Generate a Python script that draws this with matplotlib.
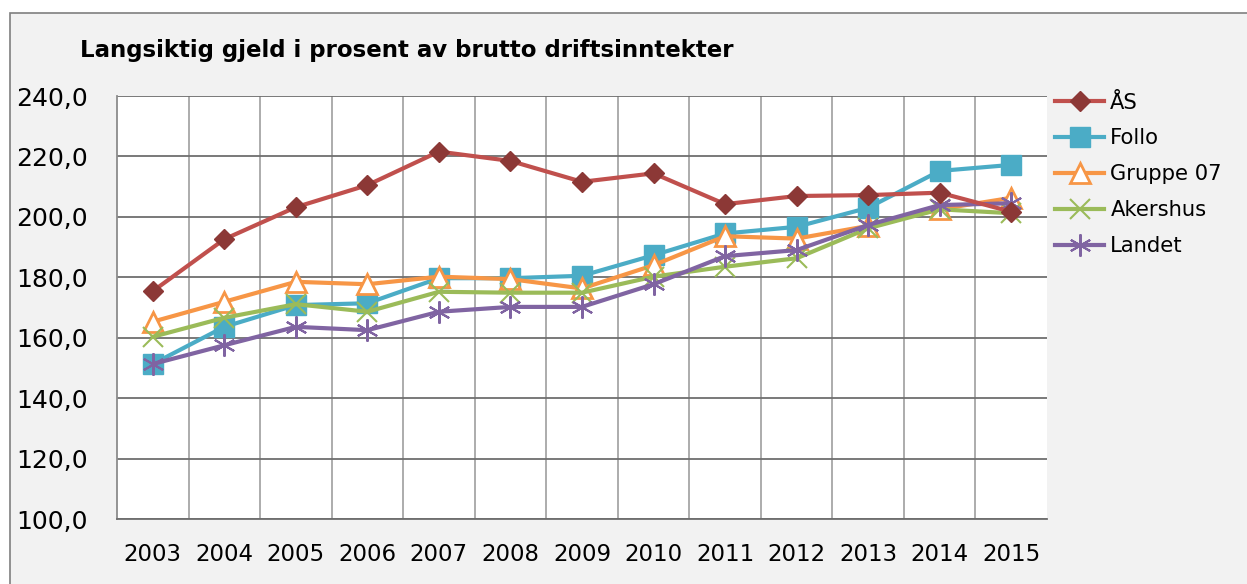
import matplotlib.pyplot as plt
import numpy as np
from matplotlib.patches import Rectangle

years = ['2003', '2004', '2005', '2006', '2007', '2008', '2009', '2010', '2011', '2012', '2013', '2014', '2015']

aas = [175.4, 192.6, 203.2, 210.5, 221.6, 218.5, 211.6, 214.4, 204.2, 206.9, 207.2, 208.0, 201.7]
follo = [151.3, 163.6, 170.8, 171.4, 179.7, 179.7, 180.5, 187.3, 194.5, 196.7, 203.0, 215.2, 217.2]
gruppe07 = [165.3, 171.9, 178.5, 177.7, 180.2, 179.4, 176.3, 184.0, 193.6, 192.8, 197.0, 202.5, 206.3]
akershus = [160.3, 166.6, 171.1, 168.6, 175.2, 174.9, 174.9, 180.2, 183.5, 186.3, 196.2, 202.5, 201.2]
landet = [151.3, 157.5, 163.6, 162.5, 168.6, 170.2, 170.2, 177.7, 187.0, 189.0, 197.3, 203.9, 204.5]

fig = plt.figure(figsize=(12.47, 5.84), dpi=100)
fig.patch.set_facecolor('white')
# outer chart area (behind the axes)
fig.patches.append(Rectangle((10/1247, -0.01), 1.0, 1.01 - 13/584, transform=fig.transFigure,
                             facecolor='#f2f2f2', edgecolor='#7f7f7f', linewidth=1.2, zorder=-10))

ax = fig.add_axes([117/1247, 1 - 519/584, 930/1247, 423/584])
ax.set_facecolor('white')
x = np.arange(len(years))

ax.plot(x, aas, color='#c0504d', lw=3, marker='D', ms=10, mfc='#8c3836', mec='#8c3836', label='ÅS', zorder=5)
ax.plot(x, follo, color='#4bacc6', lw=3, marker='s', ms=14, mfc='#4bacc6', mec='#4bacc6', label='Follo', zorder=4)
ax.plot(x, gruppe07, color='#f79646', lw=3, marker='^', ms=14, mfc='white', mec='#f79646', mew=2, label='Gruppe 07', zorder=4)
ax.plot(x, akershus, color='#9bbb59', lw=3, marker='x', ms=14, mec='#9bbb59', mew=1.5, label='Akershus', zorder=4)
ax.plot(x, landet, color='#8064a2', lw=3, marker=(6, 2, 0), ms=16, mec='#8064a2', mew=1.5, label='Landet', zorder=4)

ax.set_xlim(-0.5, len(years) - 0.5)
ax.set_ylim(100, 240)
ax.set_yticks(np.arange(100, 241, 20))
ax.set_yticklabels([f'{v},0' for v in range(100, 241, 20)], fontsize=18)
ax.set_xticks(x)
ax.set_xticklabels(years, fontsize=16.5)
ax.set_xticks(np.arange(0.5, len(years) - 0.5, 1), minor=True)
ax.tick_params(axis='y', length=0, pad=21)
ax.tick_params(axis='x', length=0, pad=17)
ax.tick_params(which='minor', length=0)
ax.grid(axis='y', which='major', color='#6e6e6e', lw=1.3)
ax.grid(axis='x', which='minor', color='#a6a6a6', lw=1.3)
ax.set_axisbelow(True)
for s in ['top', 'right']:
    ax.spines[s].set_visible(False)
ax.spines['left'].set_color('#8c8c8c')
ax.spines['bottom'].set_color('#6e6e6e')
ax.spines['left'].set_linewidth(1.3)
ax.spines['bottom'].set_linewidth(1.3)

fig.text(80/1247, 1 - 50/584, 'Langsiktig gjeld i prosent av brutto driftsinntekter',
         fontsize=16.5, fontweight='bold', va='center', ha='left')

leg = ax.legend(loc='upper left', bbox_to_anchor=(1.0, 1.028), frameon=False, fontsize=15.2,
                handlelength=2.3, labelspacing=0.75, handletextpad=0.3, borderaxespad=0.0)

fig.savefig('out.png', dpi=100, facecolor=fig.get_facecolor())
